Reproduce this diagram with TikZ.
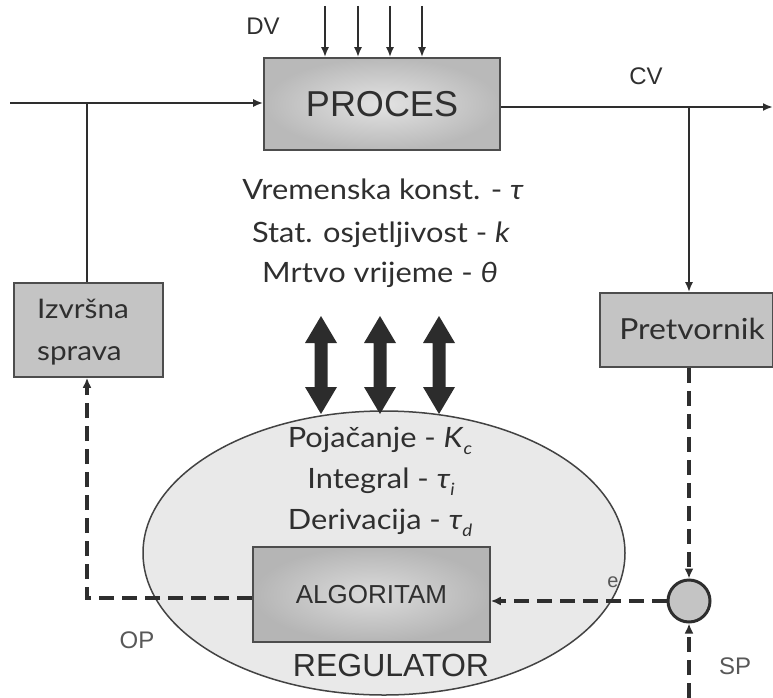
\documentclass[tikz,border=0pt]{standalone}
\usepackage{fontspec}
\setmainfont{Liberation Sans}
\newfontfamily\gill[FakeStretch=1.1]{Lato}
\usetikzlibrary{arrows.meta,shapes.geometric,calc}
\definecolor{ink}{HTML}{2E2E2E}
\definecolor{txt}{HTML}{2F2F2F}
\definecolor{boxgray}{HTML}{C4C4C4}
\definecolor{ellgray}{HTML}{E9E9E9}
\newcommand{\sbx}[1]{\raisebox{-0.28em}{\fontsize{17}{17}\selectfont\itshape #1}}
\tikzset{
  line/.style={draw=ink, line width=2.6pt},
  arr/.style={line, -{Latex[length=10pt,width=8pt]}},
  dsh/.style={draw=ink, line width=3.2pt, dash pattern=on 15pt off 8pt},
  darr/.style={dsh, -{Latex[length=10pt,width=9pt]}},
  graybox/.style={draw=ink!85, line width=1.6pt, fill=boxgray},
  arialtxt/.style={text=txt, inner sep=0pt},
  gilltxt/.style={text=txt, inner sep=0pt, font=\gill\fontsize{28}{30}\selectfont},
}
\begin{document}
\begin{tikzpicture}[x=1pt,y=-1pt]
\useasboundingbox (0,0) rectangle (773,698);

% regulator ellipse
\node[ellipse, draw=ink!90, line width=1.5pt, fill=ellgray, minimum width=482pt, minimum height=284pt, inner sep=0pt] (reg) at (384,553) {};

% process
\node[draw=ink!85, line width=1.6pt, shading=radial, inner color=gray!22, outer color=gray!55,
      minimum width=236pt, minimum height=92pt, inner sep=0pt] (proc) at (382,104)
      {\fontsize{36}{36}\selectfont\color{txt}PROCES};

% side boxes
\node[graybox, minimum width=149pt, minimum height=94pt, inner sep=0pt] (izv) at (88.5,330) {};
\node[gilltxt, anchor=base west, font=\gill\fontsize{27}{27}\selectfont] (izv1) at (37,318) {Izvršna};
\node[gilltxt, anchor=base west, font=\gill\fontsize{27}{27}\selectfont] (izv2) at (37,360) {sprava};

\node[graybox, minimum width=173pt, minimum height=74pt, inner sep=0pt] (pret) at (686.5,330) {};
\node[gilltxt, anchor=base, font=\gill\fontsize{29}{29}\selectfont] (pret1) at (692,339) {Pretvornik};

% algorithm box
\node[draw=ink!85, line width=1.6pt, shading=radial, inner color=gray!28, outer color=gray!58,
      minimum width=237pt, minimum height=95pt, inner sep=0pt] (alg) at (371.5,594.5)
      {\fontsize{26}{26}\selectfont\color{txt}ALGORITAM};

% sum junction
\node[circle, draw=ink, line width=3pt, fill=boxgray, minimum size=42pt, inner sep=0pt] (sum) at (689,601) {};

% process parameters
\node[gilltxt, anchor=base] (p1) at (383,199) {Vremenska konst. - \textit{τ}};
\node[gilltxt, anchor=base] (p2) at (381,242) {Stat. osjetljivost - \textit{k}};
\node[gilltxt, anchor=base] (p3) at (380,282) {Mrtvo vrijeme - \textit{θ}};

% controller parameters
\node[gilltxt, anchor=base] (r1) at (380,447) {Pojačanje - \textit{K}\sbx{c}};
\node[gilltxt, anchor=base] (r2) at (381,488) {Integral - \textit{τ}\sbx{i}};
\node[gilltxt, anchor=base] (r3) at (380,529) {Derivacija - \textit{τ}\sbx{d}};

% labels
\node[arialtxt, font=\fontsize{24}{24}\selectfont] (dv) at (263,26) {DV};
\node[arialtxt, font=\fontsize{24}{24}\selectfont] (cv) at (646,76) {CV};
\node[arialtxt, font=\fontsize{24}{24}\selectfont, text=txt!80] (op) at (137,640) {OP};
\node[arialtxt, font=\fontsize{24}{24}\selectfont, text=txt!80] (sp) at (735,666) {SP};
\node[arialtxt, font=\fontsize{20}{20}\selectfont, text=txt!80] (e) at (613,582) {e};
\node[arialtxt, font=\fontsize{32}{32}\selectfont] (regl) at (391,665) {REGULATOR};

% disturbance arrows
\foreach \x in {325,358,390,422}
  \draw[arr] (\x,6) -- (\x,6 |- proc.north);

% main signal lines
\coordinate (in) at (10,103);
\coordinate (out) at (773,107);
\coordinate (bl) at (87,103);
\coordinate (br) at (689,107);
\draw[arr] (in) -- (in -| proc.west);
\draw[arr] (proc.east |- out) -- (out);
\draw[line] (bl) -- (bl |- izv.north);
\draw[arr] (br) -- (br |- pret.north);

% dashed signal lines
\coordinate (opc) at (87,598);
\draw[darr] (alg.west |- opc) -- (opc) -- (opc |- izv.south);
\draw[darr] (pret.south -| sum) -- (sum.north);
\draw[darr] (sum.west) -- (sum.west -| alg.east);
\coordinate (spb) at (689,698);
\draw[darr] (spb) -- (sum.south);

% double arrows
\foreach \c in {321,380,439} {
  \fill[ink!95!black] (\c,316) -- (\c+16,343) -- (\c+6.5,343) -- (\c+6.5,387) -- (\c+16,387) -- (\c,414)
     -- (\c-16,387) -- (\c-6.5,387) -- (\c-6.5,343) -- (\c-16,343) -- cycle;
}
\end{tikzpicture}
\end{document}
